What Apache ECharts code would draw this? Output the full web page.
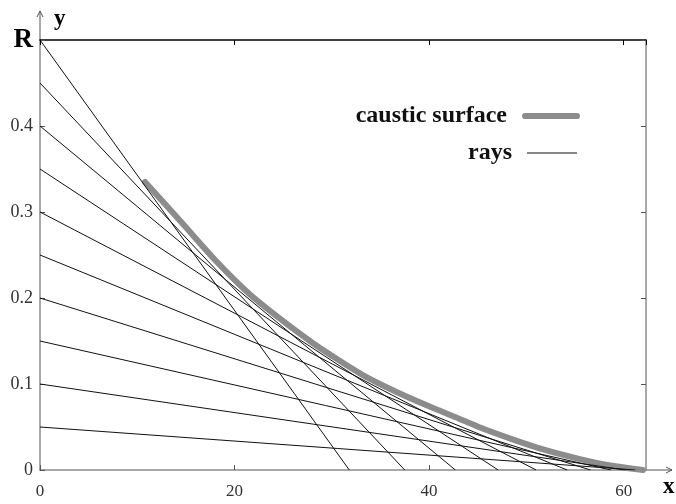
<!DOCTYPE html>
<html>
<head>
<meta charset="utf-8">
<script src="https://cdn.jsdelivr.net/npm/echarts@6/dist/echarts.min.js"></script>
<style>html,body{margin:0;padding:0;background:#fff;}#c{width:676px;height:504px;}</style>
</head>
<body>
<div id="c"></div>
<script>
// ray start heights at x=0 and their crossing points on the x axis
const rayStartY = [0.5, 0.45, 0.4, 0.35, 0.3, 0.25, 0.2, 0.15, 0.1, 0.05];
const rayEndX = [31.8, 37.5, 42.7, 47.1, 51.0, 54.2, 56.6, 58.7, 60.2, 61.2];
// caustic surface points
const causticX = [10.8, 14.7, 18.1, 21.5, 24.9, 28.0, 29.7, 33.1, 36.6, 40.0, 42.8, 45.1, 48.5, 52.0, 55.4, 58.8, 62.0];
const causticY = [0.335, 0.286, 0.243, 0.205, 0.174, 0.148, 0.135, 0.111, 0.091, 0.074, 0.061, 0.050, 0.036, 0.023, 0.013, 0.005, 0.0];
const xTicks = [0, 20, 40, 60];
const yTicks = [0, 0.1, 0.2, 0.3, 0.4];

const SERIF = '"Liberation Serif", "DejaVu Serif", serif';
const chart = echarts.init(document.getElementById('c'), null, {renderer: 'canvas'});

const series = [{
  name: 'caustic surface',
  type: 'line',
  data: causticX.map((x, i) => [x, causticY[i]]),
  symbol: 'none',
  smooth: 0.3,
  z: 2,
  lineStyle: {color: '#8c8c8c', width: 6, cap: 'round'},
  itemStyle: {color: '#8c8c8c'}
}];
rayStartY.forEach((y0, i) => {
  series.push({
    name: 'rays',
    type: 'line',
    data: [[0, y0], [rayEndX[i], 0]],
    symbol: 'none',
    z: 3,
    lineStyle: {color: '#111', width: 1},
    itemStyle: {color: '#111'}
  });
});

const legendBase = {
  orient: 'horizontal',
  align: 'right',
  padding: 0,
  selectedMode: false,
  textStyle: {fontFamily: SERIF, fontWeight: 'bold', fontSize: 24, color: '#111', padding: [0, 10, 0, 0]}
};

chart.setOption({
  animation: false,
  backgroundColor: '#fff',
  grid: {left: 40, right: 30, top: 40, bottom: 34},
  legend: [
    Object.assign({}, legendBase, {
      data: [{name: 'caustic surface', icon: 'path://M3,0 L53,0 A3,3 0 0 1 53,6 L3,6 A3,3 0 0 1 3,0 Z'}],
      right: 96, top: 104, itemWidth: 58, itemHeight: 7
    }),
    Object.assign({}, legendBase, {
      data: [{name: 'rays', icon: 'rect'}],
      right: 99, top: 141, itemWidth: 50, itemHeight: 1
    })
  ],
  xAxis: [{
    type: 'value', min: 0, max: 62.3, interval: 20,
    splitLine: {show: false},
    axisLine: {lineStyle: {color: '#8c8c8c', width: 1.5}},
    axisTick: {inside: true, length: 5, lineStyle: {color: '#555'}},
    axisLabel: {
      showMaxLabel: false, margin: 13,
      fontFamily: SERIF, fontSize: 17, color: '#333',
      formatter: v => (xTicks.indexOf(v) >= 0 ? String(v) : '')
    }
  }, {
    type: 'value', min: 0, max: 62.3, interval: 20, position: 'top',
    splitLine: {show: false},
    axisLine: {onZero: false, lineStyle: {color: '#000', width: 1.5}},
    axisTick: {inside: true, length: 5, lineStyle: {color: '#000'}},
    axisLabel: {show: false}
  }],
  yAxis: [{
    type: 'value', min: 0, max: 0.5, interval: 0.1,
    splitLine: {show: false},
    axisLine: {lineStyle: {color: '#8c8c8c', width: 1.5}},
    axisTick: {inside: true, length: 5, lineStyle: {color: '#555'}},
    axisLabel: {
      margin: 7, fontFamily: SERIF, fontSize: 18, color: '#333',
      formatter: v => {
        if (Math.abs(v - 0.5) < 1e-9) return '{r|R}';
        const t = yTicks.find(k => Math.abs(k - v) < 1e-9);
        return t === undefined ? '' : (t === 0 ? '0' : t.toFixed(1));
      },
      rich: {r: {fontFamily: SERIF, fontSize: 27, fontWeight: 'bold', color: '#000'}}
    }
  }, {
    type: 'value', min: 0, max: 0.5, interval: 0.1, position: 'right',
    splitLine: {show: false},
    axisLine: {onZero: false, lineStyle: {color: '#8c8c8c', width: 1.5}},
    axisTick: {inside: true, length: 5, lineStyle: {color: '#555'}},
    axisLabel: {show: false}
  }],
  graphic: [
    {type: 'line', shape: {x1: 40, y1: 40, x2: 40, y2: 11}, style: {stroke: '#8c8c8c', lineWidth: 1.5}},
    {type: 'polyline', shape: {points: [[37, 17], [40, 11], [43, 17]]}, style: {stroke: '#555', lineWidth: 1, fill: null}},
    {type: 'line', shape: {x1: 646, y1: 470, x2: 672, y2: 470}, style: {stroke: '#8c8c8c', lineWidth: 1.5}},
    {type: 'polyline', shape: {points: [[666, 467], [672, 470], [666, 473]]}, style: {stroke: '#555', lineWidth: 1, fill: null}},
    {type: 'text', left: 54, top: 8, style: {text: 'y', font: 'bold 23px ' + SERIF, fill: '#000'}},
    {type: 'text', left: 663, top: 476, style: {text: 'x', font: 'bold 23px ' + SERIF, fill: '#000'}}
  ],
  series: series
});
</script>
</body>
</html>
